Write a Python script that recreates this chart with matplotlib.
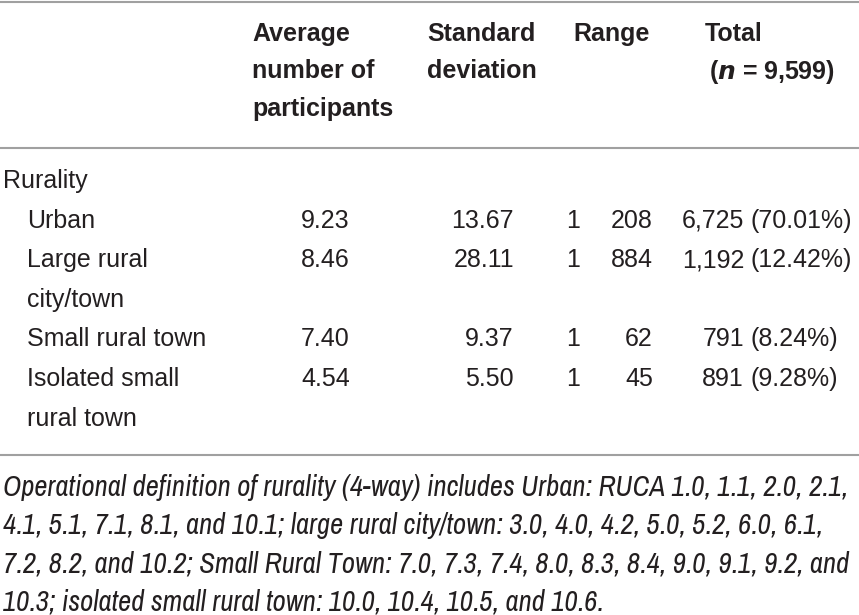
import matplotlib
matplotlib.use('Agg')
import matplotlib.pyplot as plt
from matplotlib import font_manager

names = {f.name for f in font_manager.fontManager.ttflist}
narrow = next((n for n in ['Archivo Narrow', 'Liberation Sans Narrow', 'Barlow Semi Condensed']
               if n in names), 'Liberation Sans')

# table content
headers = [
    (['Average', 'number of', 'participants'], 252),
    (['Standard', 'deviation'], 427),
    (['Range'], 573),
    (['Total', r'($\mathbfit{n}$ = 9,599)'], 705),
]
group_label = 'Rurality'
row_labels = [['Urban'], ['Large rural', 'city/town'], ['Small rural town'],
              ['Isolated small', 'rural town']]
avg_participants = ['9.23', '8.46', '7.40', '4.54']
std_dev = ['13.67', '28.11', '9.37', '5.50']
range_min = ['1', '1', '1', '1']
range_max = ['208', '884', '62', '45']
total_n = ['6,725', '1,192', '791', '891']
total_pct = ['(70.01%)', '(12.42%)', '(8.24%)', '(9.28%)']
footnote = [
    'Operational definition of rurality (4-way) includes Urban: RUCA 1.0, 1.1, 2.0, 2.1,',
    '4.1, 5.1, 7.1, 8.1, and 10.1; large rural city/town: 3.0, 4.0, 4.2, 5.0, 5.2, 6.0, 6.1,',
    '7.2, 8.2, and 10.2; Small Rural Town: 7.0, 7.3, 7.4, 8.0, 8.3, 8.4, 9.0, 9.1, 9.2, and',
    '10.3; isolated small rural town: 10.0, 10.4, 10.5, and 10.6.',
]

W, H = 859, 615
fig = plt.figure(figsize=(W / 100, H / 100), dpi=100)
ax = fig.add_axes([0, 0, 1, 1])
ax.set_xlim(0, W)
ax.set_ylim(H, 0)
ax.axis('off')

ink = '#231f20'
fs = 18
step = 39.6

# rules
for y in [1.5, 148, 455]:
    ax.axhline(y, color='#a0a0a0', lw=1.5)

# header
for lines, x in headers:
    for i, t in enumerate(lines):
        xx = x + (4 if t.startswith('(') else 0)
        ax.text(xx, 41 + i * 37.5, t, fontsize=fs, fontweight='bold', family='Liberation Sans',
                color=ink, va='baseline', ha='left')

# body
ax.text(3, 188, group_label, fontsize=fs, family='Liberation Sans', color=ink, va='baseline')
y = 188 + step
for k, lab in enumerate(row_labels):
    for i, t in enumerate(lab):
        ax.text(27, y + i * step, t, fontsize=fs, family='Liberation Sans', color=ink, va='baseline')
    for x, val, ha in [(350, avg_participants[k], 'right'), (514, std_dev[k], 'right'),
                       (580, range_min[k], 'right'), (653, range_max[k], 'right'),
                       (744, total_n[k], 'right'), (750, total_pct[k], 'left')]:
        ax.text(x, y, val, fontsize=fs, family='Liberation Sans', color=ink, va='baseline', ha=ha)
    y += step * len(lab)

# footnote, fitted to the width of its first line
r = fig.canvas.get_renderer()
t0 = ax.text(3, 496, footnote[0], fontsize=fs, family=narrow, style='italic', color=ink, va='baseline')
w = t0.get_window_extent(r).width
t0.set_fontsize(fs * 845 / w)
for i, line in enumerate(footnote[1:], 1):
    ax.text(3, 496 + i * 38, line, fontsize=t0.get_fontsize(), family=narrow, style='italic',
            color=ink, va='baseline')

fig.savefig('out.png', dpi=100)
